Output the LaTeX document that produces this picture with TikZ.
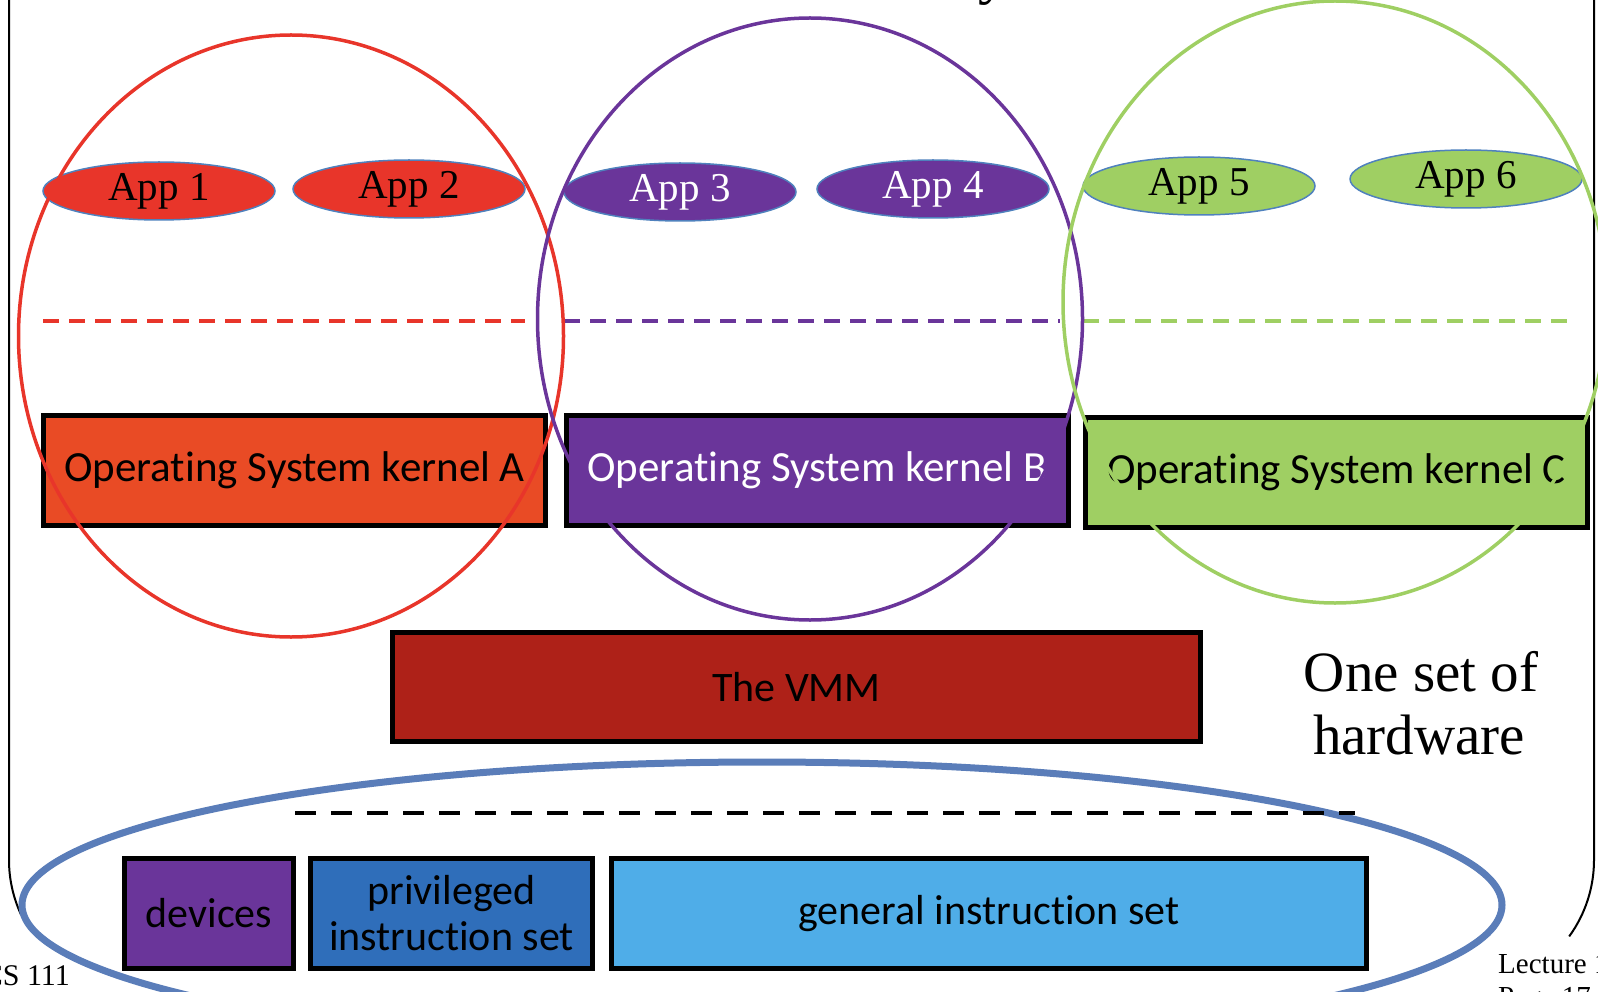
\documentclass[tikz,border=0pt]{standalone}
\usepackage{fontspec}
\setmainfont{Liberation Serif}
\newfontfamily\calib[Ligatures=NoCommon]{Carlito}
\usetikzlibrary{shapes.geometric}
\definecolor{cred}{HTML}{E8352A}
\definecolor{kred}{HTML}{E94B25}
\definecolor{cpurple}{HTML}{6A359A}
\definecolor{cgreen}{HTML}{9FCF63}
\definecolor{vmmred}{HTML}{AE2118}
\definecolor{hwblue}{HTML}{5A7DB9}
\definecolor{privblue}{HTML}{2F6EBA}
\definecolor{genblue}{HTML}{4FADE8}
\definecolor{appedge}{HTML}{4F81BD}
\tikzset{
  app/.style={ellipse, draw=appedge, line width=1.5pt, minimum width=232pt, minimum height=58pt, inner sep=0pt, font=\fontsize{41}{41}\selectfont},
  kbox/.style={draw=black, line width=5pt, minimum width=502pt, minimum height=110pt, inner sep=0pt, font=\calib\fontsize{43}{46}\selectfont},
  hwbox/.style={draw=black, line width=5pt, minimum height=110pt, inner sep=0pt, align=center, font=\calib\fontsize{42}{46}\selectfont},
  vmring/.style={line width=3.5pt},
  sepline/.style={line width=4pt, dash pattern=on 16pt off 10pt},
  frameline/.style={line width=2pt, black},
  footer/.style={inner sep=0pt, font=\fontsize{29}{33}\selectfont}
}
\begin{document}
\begin{tikzpicture}[x=1pt,y=-1pt]
\useasboundingbox (0,0) rectangle (1598,992);
\clip (0,0) rectangle (1598,992);
% slide frame
\draw[frameline] (9,-5) -- (9,860) arc[start angle=180, end angle=155, radius=130];
\draw[frameline] (1594,-5) -- (1594,860) arc[start angle=0, end angle=36, radius=130];
% title fragment
\node[anchor=base west, inner sep=0pt, font=\fontsize{60}{60}\selectfont] (title) at (978,-7) {y};
% kernels
\node[kbox, fill=kred] (kA) at (294.5,470.5) {Operating System kernel A};
\node[kbox, fill=cpurple, text=white] (kB) at (817,470.5) {Operating System kernel B};
\node[kbox, fill=cgreen] (kC) at (1336.5,472.5) {Operating System kernel C};
% apps
\node[app, fill=cred] (a1) at (159,191) {App 1};
\node[app, fill=cred] (a2) at (409,189) {App 2};
\node[app, fill=cpurple, text=white] (a3) at (680,192) {App 3};
\node[app, fill=cpurple, text=white] (a4) at (933,189) {App 4};
\node[app, fill=cgreen] (a5) at (1199,186) {App 5};
\node[app, fill=cgreen] (a6) at (1466,179) {App 6};
% user/kernel separators
\draw[sepline, cred] (43,321) -- (525,321);
\draw[sepline, cpurple] (564,321) -- (1060,321);
\draw[sepline, cgreen] (1083,321) -- (1569,321);
% virtual machine rings
\draw[vmring, cred] (291,336) ellipse[x radius=272.5, y radius=301];
\draw[vmring, cpurple] (810,319) ellipse[x radius=272.5, y radius=301];
\draw[vmring, cgreen] (1335,302) ellipse[x radius=272, y radius=301];
% VMM
\node[kbox, fill=vmmred, minimum width=808pt, minimum height=109pt, font=\calib\fontsize{42}{46}\selectfont] (vmm) at (796.5,687) {The VMM};
\node[anchor=base, inner sep=0pt, font=\fontsize{57}{57}\selectfont] (hw1) at (1421,691) {One set of};
\node[anchor=base, inner sep=0pt, font=\fontsize{57}{57}\selectfont] (hw2) at (1419,754) {hardware};
% hardware ring
\draw[line width=7pt, hwblue, fill=white] (762,905) ellipse[x radius=740, y radius=143];
\draw[line width=4.5pt, black, dash pattern=on 21pt off 15pt] (295,813) -- (1355,813);
\node[hwbox, fill=cpurple, minimum width=169pt] (dev) at (209,913.5) {devices};
\node[hwbox, fill=privblue, minimum width=282pt] (priv) at (451.5,913.5) {privileged\\instruction set};
\node[hwbox, fill=genblue, minimum width=755pt] (gen) at (989,913.5) {general instruction set};
% footers
\node[footer, anchor=base east, font=\fontsize{30}{33}\selectfont] (cs) at (70,985) {CS 111};
\node[footer, anchor=base west] (lec) at (1498,973) {Lecture 1};
\node[footer, anchor=base west] (pg) at (1498,1006) {Page 17};
\end{tikzpicture}
\end{document}
